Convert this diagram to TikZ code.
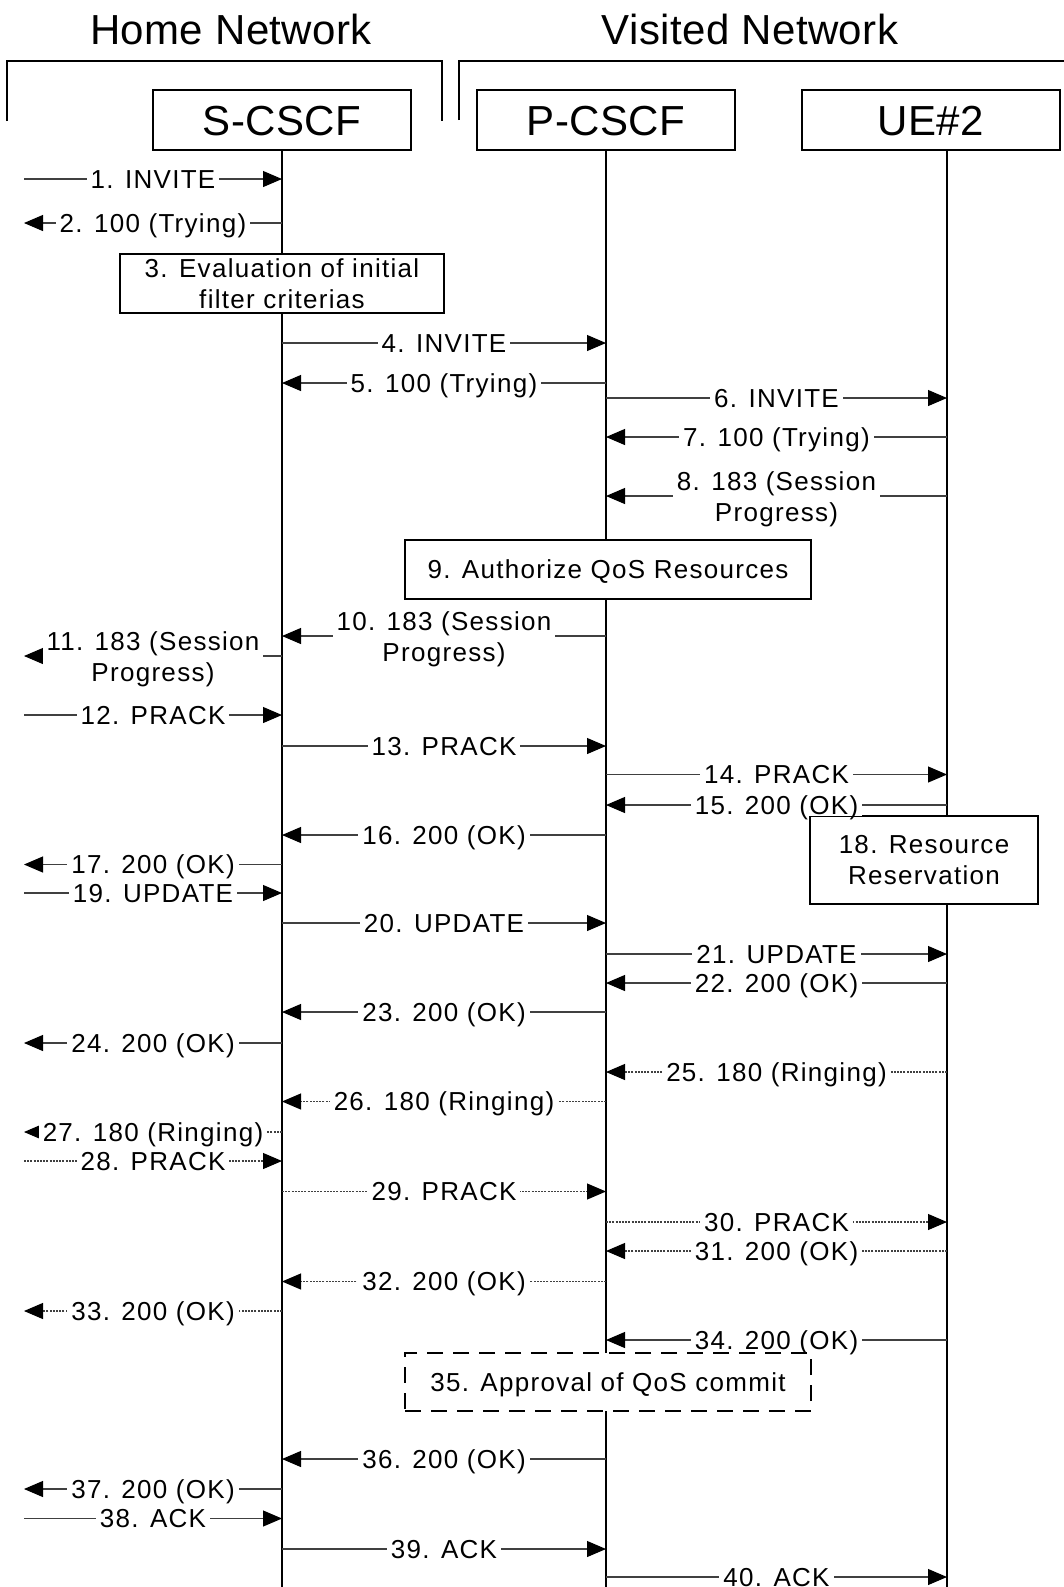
\documentclass[tikz,border=0pt]{standalone}
\usepackage{fontspec}
\setmainfont{Liberation Sans}[LetterSpace=5]
\newfontfamily\headfont{Liberation Sans}[LetterSpace=1]
\usetikzlibrary{arrows.meta}
\begin{document}
\begin{tikzpicture}[x=0.5pt,y=-0.5pt,
    ent/.style={draw,line width=1pt,minimum width=129pt,minimum height=30pt,inner sep=0pt,font=\headfont\fontsize{21}{25}\selectfont,text height=15pt,text depth=0pt},
    title/.style={font=\headfont\fontsize{21}{25}\selectfont,text height=15pt,text depth=0pt,inner sep=0pt},
    lane/.style={line width=1.1pt},
    bracket/.style={line width=1pt},
    msg/.style={draw=black!75,line width=0.55pt,-{Triangle[length=9.5pt,width=8pt,color=black]}},
    dotmsg/.style={msg,dash pattern=on 1pt off 0.6pt},
    lab/.style={fill=white,inner xsep=2pt,inner ysep=1pt,font=\fontsize{13}{15.8}\selectfont},
    capline/.style={text height=9.3pt,text depth=0pt},
    one/.style={lab,capline},
    two/.style={lab,align=center,yshift=-1.6pt},
    stepbox/.style={draw,line width=1pt,fill=white,inner sep=0pt,font=\fontsize{13}{15.8}\selectfont}
]
\useasboundingbox (0,0) rectangle (1064,1587);

\node[title] (home) at (231,29) {Home Network};
\node[title] (visited) at (750,29) {Visited Network};
\draw[bracket] (7,121) -- (7,61) -- (442,61) -- (442,121);
\draw[bracket] (459,120) -- (459,61) -- (1064,61);

\node[ent] (scscf) at (282,120) {S-CSCF};
\node[ent] (pcscf) at (606,120) {P-CSCF};
\node[ent] (ue) at (931,120) {UE\#2};

\coordinate (lL) at (24,150);
\coordinate (lS) at (282,150);
\coordinate (lP) at (606,150);
\coordinate (lU) at (947,150);
\draw[lane] (scscf.south) -- (lS |- 0,1587);
\draw[lane] (pcscf.south) -- (lP |- 0,1587);
\draw[lane] (lU) -- (lU |- 0,1587);

\node[stepbox,align=center,minimum width=162pt,minimum height=29.5pt] (eval) at (282,283.5) {3. Evaluation of initial\\filter criterias};
\node[stepbox,capline,minimum width=203pt,minimum height=29.5pt] (auth) at (608,569.5) {9. Authorize QoS Resources};
\node[stepbox,align=center,minimum width=114pt,minimum height=44pt] (resv) at (924,860) {18. Resource\\Reservation};

\foreach \y/\a/\b/\t in {179/lL/lS/1. INVITE, 223/lS/lL/2. 100 (Trying),
    343/lS/lP/4. INVITE, 383/lP/lS/5. 100 (Trying), 398/lP/lU/6. INVITE,
    437/lU/lP/7. 100 (Trying), 715/lL/lS/12. PRACK, 746/lS/lP/13. PRACK,
    774.5/lP/lU/14. PRACK, 805/lU/lP/15. 200 (OK), 835/lP/lS/16. 200 (OK),
    864.5/lS/lL/17. 200 (OK), 893/lL/lS/19. UPDATE, 923/lS/lP/20. UPDATE,
    954/lP/lU/21. UPDATE, 983/lU/lP/22. 200 (OK), 1012/lP/lS/23. 200 (OK),
    1043/lS/lL/24. 200 (OK), 1340/lU/lP/34. 200 (OK), 1459/lP/lS/36. 200 (OK),
    1489/lS/lL/37. 200 (OK), 1518.5/lL/lS/38. ACK, 1549/lS/lP/39. ACK,
    1577/lP/lU/40. ACK}
  \draw[msg] (\a |- 0,\y) -- node[one] {\t} (\b |- 0,\y);

\foreach \y/\a/\b/\t in {1072/lU/lP/25. 180 (Ringing), 1101.5/lP/lS/26. 180 (Ringing),
    1132/lS/lL/27. 180 (Ringing), 1161/lL/lS/28. PRACK, 1191.5/lS/lP/29. PRACK,
    1222/lP/lU/30. PRACK, 1251/lU/lP/31. 200 (OK), 1281.5/lP/lS/32. 200 (OK),
    1311/lS/lL/33. 200 (OK)}
  \draw[dotmsg] (\a |- 0,\y) -- node[one] {\t} (\b |- 0,\y);

\draw[msg] (lU |- 0,496) -- node[two] {8. 183 (Session\\Progress)} (lP |- 0,496);
\draw[msg] (lP |- 0,636) -- node[two] {10. 183 (Session\\Progress)} (lS |- 0,636);
\draw[msg] (lS |- 0,656) -- node[two] {11. 183 (Session\\Progress)} (lL |- 0,656);

\node[stepbox,capline,dash pattern=on 8pt off 5pt,minimum width=203pt,minimum height=29pt] (commit) at (608,1382) {35. Approval of QoS commit};
\end{tikzpicture}
\end{document}
